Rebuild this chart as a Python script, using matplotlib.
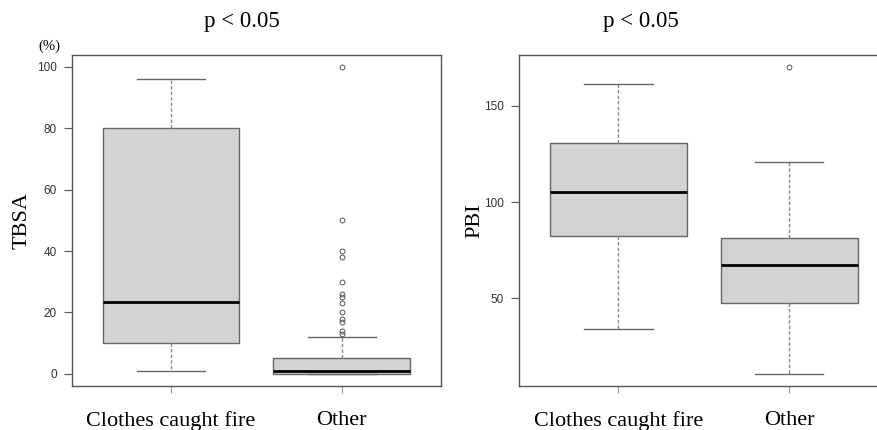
import matplotlib
matplotlib.use('Agg')
import matplotlib.pyplot as plt

# Data
groups = ['Clothes caught fire', 'Other']

# TBSA (%)
tbsa_whislo = [1, 0]
tbsa_q1 = [10, 0]
tbsa_med = [23.5, 1]
tbsa_q3 = [80, 5]
tbsa_whishi = [96, 12]
tbsa_fliers = [[], [13, 14, 17, 18, 20, 23, 25, 26, 30, 38, 40, 50, 100]]

# PBI
pbi_whislo = [34, 11]
pbi_q1 = [82.5, 47.5]
pbi_med = [105, 67.5]
pbi_q3 = [130.5, 81.5]
pbi_whishi = [161, 121]
pbi_fliers = [[], [170]]

tbsa_ticks = [0, 20, 40, 60, 80, 100]
pbi_ticks = [50, 100, 150]

serif = 'Liberation Serif'
sans = 'Liberation Sans'
axis_col = '#555555'


def make_stats(whislo, q1, med, q3, whishi, fliers):
    return [dict(whislo=whislo[i], q1=q1[i], med=med[i], q3=q3[i], whishi=whishi[i],
                 fliers=fliers[i], label=groups[i]) for i in range(len(groups))]


def draw_panel(ax, stats, ticks, ylabel, labelpad):
    ax.bxp(stats, positions=[1, 2], widths=0.8, patch_artist=True,
           boxprops=dict(facecolor='#d3d3d3', edgecolor='#666666', linewidth=1.0),
           medianprops=dict(color='black', linewidth=2.0),
           whiskerprops=dict(color='#8a8a8a', linestyle=(0, (2.5, 1.5)), linewidth=1.0),
           capprops=dict(color='#666666', linewidth=1.0),
           flierprops=dict(marker='o', markersize=3.5, markerfacecolor='none',
                           markeredgecolor='#555555', markeredgewidth=0.7))
    # R-style 4% padding around the data range
    lo = min(s['whislo'] for s in stats)
    hi = max([s['whishi'] for s in stats] + [f for s in stats for f in s['fliers']])
    pad = (hi - lo) * 0.04
    ax.set_ylim(lo - pad, hi + pad)
    ax.set_xlim(0.42, 2.58)
    ax.set_yticks(ticks)
    ax.set_yticklabels([str(t) for t in ticks], fontsize=8.5, family=sans, color='#333333')
    ax.set_xticks([1, 2])
    ax.set_xticklabels(groups, fontsize=16, family=serif)
    ax.tick_params(axis='x', length=5, color='#999999', pad=13)
    ax.tick_params(axis='y', length=6, color=axis_col, pad=5)
    for sp in ax.spines.values():
        sp.set_color(axis_col)
        sp.set_linewidth(1.0)
    ax.set_ylabel(ylabel, fontsize=16, family=serif, labelpad=labelpad)


fig = plt.figure(figsize=(8.77, 4.30), dpi=100)
ax1 = fig.add_axes([0.0821, 0.1023, 0.4204, 0.7705])
ax2 = fig.add_axes([0.5921, 0.1023, 0.4208, 0.7705])

draw_panel(ax1, make_stats(tbsa_whislo, tbsa_q1, tbsa_med, tbsa_q3, tbsa_whishi, tbsa_fliers),
           tbsa_ticks, 'TBSA', 4)
draw_panel(ax2, make_stats(pbi_whislo, pbi_q1, pbi_med, pbi_q3, pbi_whishi, pbi_fliers),
           pbi_ticks, 'PBI', 0)

fig.text(241.5 / 877, 1 - 22 / 430, 'p < 0.05', ha='center', va='center', fontsize=16.5, family=serif)
fig.text(641 / 877, 1 - 22 / 430, 'p < 0.05', ha='center', va='center', fontsize=16.5, family=serif)
fig.text(49 / 877, 1 - 46 / 430, '(%)', ha='center', va='center', fontsize=10.5, family=serif)

fig.savefig('out.png', dpi=100)
